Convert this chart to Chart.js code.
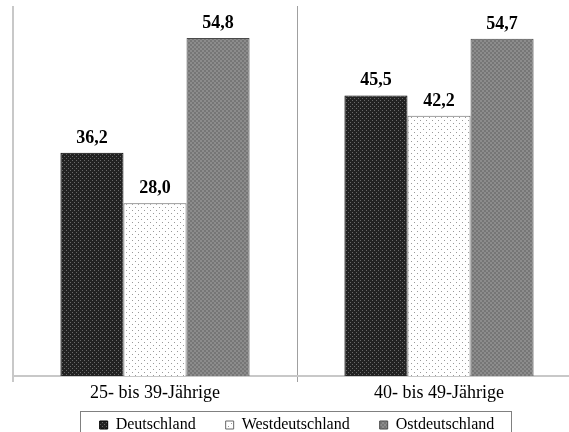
<!DOCTYPE html>
<html>

<head>
	<meta http-equiv="content-type" content="text/html; charset=UTF-8">
	<title>Deutschland / West / Ost</title>

	<script src="https://cdn.jsdelivr.net/npm/chart.js@4/dist/chart.umd.min.js"></script>

	<style>
		body { margin: 0; overflow: hidden; background: #fff; }
		#wrap { position: relative; width: 594px; height: 462px; }
	</style>

	<script>

		var categories = ['25- bis 39-Jährige', '40- bis 49-Jährige'];
		var seriesNames = ['Deutschland', 'Westdeutschland', 'Ostdeutschland'];
		var deutschland = [36.2, 45.5];
		var westdeutschland = [28.0, 42.2];
		var ostdeutschland = [54.8, 54.7];

		// kleine Rastermuster wie im Original
		function makePattern(size, base, dots, dotColor, dotSize) {
			var c = document.createElement('canvas');
			c.width = size;
			c.height = size;
			var g = c.getContext('2d');
			g.fillStyle = base;
			g.fillRect(0, 0, size, size);
			g.fillStyle = dotColor;
			for (var i = 0; i < dots.length; i++) {
				g.fillRect(dots[i][0], dots[i][1], dotSize, dotSize);
			}
			return g.createPattern(c, 'repeat');
		}

		// Werte über den Balken
		var valueLabels = {
			id: 'valueLabels',
			afterDatasetsDraw: function(chart) {
				var ctx = chart.ctx;
				ctx.save();
				ctx.font = 'bold 18px "Liberation Serif", "Times New Roman", serif';
				ctx.fillStyle = '#000';
				ctx.textAlign = 'center';
				ctx.textBaseline = 'alphabetic';
				chart.data.datasets.forEach(function(ds, i) {
					chart.getDatasetMeta(i).data.forEach(function(bar, j) {
						ctx.fillText(ds.data[j].toFixed(1).replace('.', ','), bar.x, bar.y - 10);
					});
				});
				ctx.restore();
			}
		};

		// Legende etwas näher an die Achse, dann Rahmen drum
		var legendFrame = {
			id: 'legendFrame',
			afterLayout: function(chart) {
				var lg = chart.legend;
				if (!lg) return;
				var h = lg.bottom - lg.top;
				lg.top = chart.chartArea.bottom + 11;
				lg.bottom = lg.top + h;
			},
			afterDraw: function(chart) {
				var lg = chart.legend;
				if (!lg || !lg.legendHitBoxes.length) return;
				var boxes = lg.legendHitBoxes;
				var first = boxes[0];
				var last = boxes[boxes.length - 1];
				var ctx = chart.ctx;
				ctx.save();
				ctx.strokeStyle = '#808080';
				ctx.lineWidth = 1;
				ctx.strokeRect(Math.round(first.left - 20) + 0.5, Math.round(chart.chartArea.bottom + 35) + 0.5,
					Math.round(last.left + last.width + 16 - (first.left - 20)), 26);
				ctx.restore();
			}
		};

		function drawChart() {
			var black = makePattern(4, '#222222', [[0, 0], [2, 2]], '#6a6a6a', 1);
			var white = makePattern(6, '#ffffff', [[0, 0], [3, 3]], '#9a9a9a', 1);
			var grey = makePattern(4, '#767676', [[0, 0], [2, 2]], '#8c8c8c', 2);

			var ctx = document.getElementById('chart').getContext('2d');
			var myChart = new Chart(ctx, {
				type: 'bar',
				data: {
					labels: categories,
					datasets: [{
						label: seriesNames[0],
						data: deutschland,
						backgroundColor: black,
						borderColor: '#000',
						borderWidth: 1
					}, {
						label: seriesNames[1],
						data: westdeutschland,
						backgroundColor: white,
						borderColor: '#666',
						borderWidth: 1
					}, {
						label: seriesNames[2],
						data: ostdeutschland,
						backgroundColor: grey,
						borderColor: '#4a4a4a',
						borderWidth: 1
					}]
				},
				options: {
					responsive: true,
					maintainAspectRatio: false,
					animation: false,
					layout: {
						padding: { left: 13, right: 13, top: 6, bottom: 0 }
					},
					datasets: {
						bar: { barPercentage: 1, categoryPercentage: 0.666 }
					},
					scales: {
						x: {
							afterFit: function(scale) { scale.height = 30; },
							grid: {
								offset: true,
								tickLength: 6,
								color: function(c) { return c.index === 0 ? '#c8c8c8' : '#a0a0a0'; },
								lineWidth: function(c) { return c.index === 0 ? 2 : 1; }
							},
							border: { color: '#c8c8c8', width: 2 },
							ticks: {
								color: '#000',
								padding: 0,
								font: { family: '"Liberation Serif", "Times New Roman", serif', size: 18 }
							}
						},
						y: {
							display: false,
							min: 0,
							max: 60
						}
					},
					plugins: {
						tooltip: { enabled: false },
						legend: {
							position: 'bottom',
							labels: {
								boxWidth: 8,
								boxHeight: 8,
								padding: 30,
								color: '#000',
								font: { family: '"Liberation Serif", "Times New Roman", serif', size: 16 }
							}
						}
					}
				},
				plugins: [valueLabels, legendFrame]
			});
		}

	</script>
</head>

<body onload="drawChart()">
	<div id="wrap">
		<canvas id="chart"></canvas>
	</div>
</body>

</html>
